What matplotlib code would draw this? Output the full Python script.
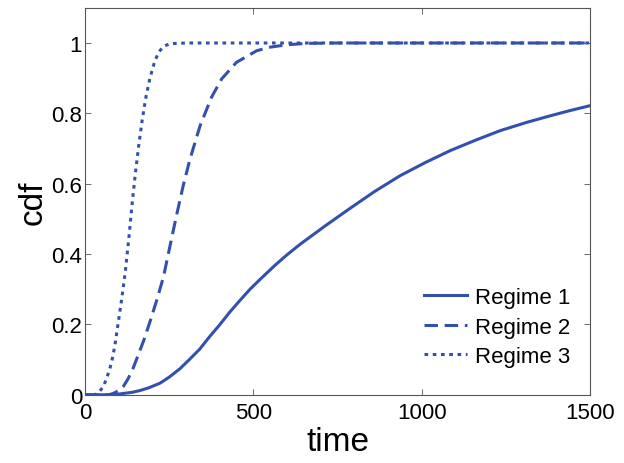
import matplotlib
matplotlib.use('Agg')
import matplotlib.pyplot as plt
import numpy as np

# values
t1 = [0, 70, 100, 140, 163, 190, 223, 250, 282, 310, 341, 370, 401, 430,
      460, 490, 520, 564, 600, 639, 676, 713, 750, 787, 860, 936, 1010,
      1084, 1160, 1233, 1310, 1381, 1440, 1500]
cdf1 = [0, 0, 0.002, 0.007, 0.012, 0.02, 0.033, 0.05, 0.074, 0.10, 0.13,
        0.165, 0.20, 0.235, 0.268, 0.30, 0.328, 0.368, 0.398, 0.428, 0.454,
        0.48, 0.505, 0.53, 0.578, 0.623, 0.66, 0.694, 0.724, 0.751, 0.774,
        0.793, 0.808, 0.822]

t2 = [0, 70, 85, 100, 115, 128, 143, 157, 175, 193, 213, 233, 252, 272,
      292, 312, 342, 376, 406, 450, 510, 549, 600, 660, 750, 1000, 1500]
cdf2 = [0, 0, 0.004, 0.012, 0.025, 0.045, 0.075, 0.11, 0.155, 0.207, 0.268,
        0.334, 0.42, 0.51, 0.595, 0.67, 0.765, 0.846, 0.898, 0.945, 0.978,
        0.988, 0.995, 0.999, 1.0, 1.0, 1.0]

t3 = [0, 30, 42, 54, 64, 74, 82, 89, 99, 109, 120, 131, 141, 150, 160, 170,
      180, 193, 208, 220, 233, 252, 300, 1500]
cdf3 = [0, 0, 0.008, 0.022, 0.045, 0.074, 0.105, 0.14, 0.205, 0.27, 0.35,
        0.45, 0.55, 0.63, 0.71, 0.78, 0.84, 0.90, 0.95, 0.975, 0.99, 0.998,
        1.0, 1.0]

labels = ['Regime 1', 'Regime 2', 'Regime 3']
color = '#3450ae'

plt.rcParams['font.family'] = ['Liberation Sans', 'DejaVu Sans']

fig = plt.figure(figsize=(6.24, 4.64), dpi=100)
ax = fig.add_axes([0.136, 0.147, 0.81, 0.834])

ax.plot(t1, cdf1, color=color, lw=2.2, label=labels[0])
ax.plot(t2, cdf2, color=color, lw=2.2, dashes=(4.4, 2.2), label=labels[1])
ax.plot(t3, cdf3, color=color, lw=2.2, dashes=(1.2, 1.5), label=labels[2])

ax.set_xlim(0, 1500)
ax.set_ylim(0, 1.1)
ax.set_xticks([0, 500, 1000, 1500])
ax.set_yticks([0, 0.2, 0.4, 0.6, 0.8, 1])
ax.set_yticklabels(['0', '0.2', '0.4', '0.6', '0.8', '1'])
ax.tick_params(direction='in', top=True, right=True, labelsize=16,
               color='#555555', length=4, width=0.6, pad=2)
ax.tick_params(axis='x', pad=5)
for s in ax.spines.values():
    s.set_color('#555555')
    s.set_linewidth(0.8)

ax.set_xlabel('time', fontsize=24, labelpad=2)
ax.set_ylabel('cdf', fontsize=24, labelpad=2)

ax.legend(loc='lower right', frameon=False, fontsize=16, handlelength=1.95,
          handletextpad=0.36, labelspacing=0.38, bbox_to_anchor=(1.0, 0.02))

fig.savefig('out.png', dpi=100)
